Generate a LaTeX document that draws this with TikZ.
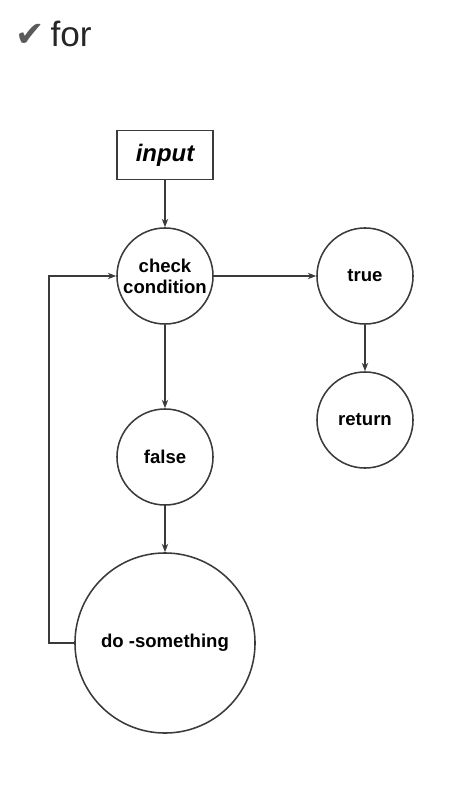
\documentclass[tikz,border=0pt]{standalone}
\usepackage{fontspec}
\setmainfont{Liberation Sans}
\newfontfamily\symbfont{DejaVu Sans}
\usetikzlibrary{arrows.meta}
\definecolor{edgegray}{HTML}{3A3A3A}
\definecolor{tickgray}{HTML}{5A5A5A}
\begin{document}
\begin{tikzpicture}[x=0.025cm, y=-0.025cm]
  \tikzstyle{state}=[circle, draw=edgegray, line width=1.1pt, inner sep=0pt,
                     minimum size=2.4cm, align=center, font=\fontsize{13.2}{15}\selectfont\bfseries]
  \tikzstyle{flow}=[-{Stealth[length=6pt, width=4.5pt]}, draw=edgegray, line width=1.1pt]
  \useasboundingbox (0,0) rectangle (456,786);

  \node[anchor=base west, inner sep=0pt, font=\fontsize{25}{30}\selectfont] (title) at (15,47)
    {{\color{tickgray}\symbfont ✔}\,{\color{black!85}for}};

  \node[draw=edgegray, line width=1.1pt, minimum width=2.4cm, minimum height=1.22cm,
        font=\fontsize{17}{20}\selectfont\bfseries\itshape] (input) at (165,155) {input};
  \node[state] (check) at (165,276) {check\\condition};
  \node[state] (true) at (365,276) {true};
  \node[state] (return) at (365,420) {return};
  \node[state] (false) at (165,457) {false};
  \node[state, minimum size=4.5cm] (todo) at (165,643) {do -something};

  \draw[flow] (input) -- (check);
  \draw[flow] (check) -- (true);
  \draw[flow] (true) -- (return);
  \draw[flow] (check) -- (false);
  \draw[flow] (false) -- (todo);
  % loop back to the condition
  \draw[flow] (todo.west) -- ++(-25,0) |- (check.west);
\end{tikzpicture}
\end{document}
